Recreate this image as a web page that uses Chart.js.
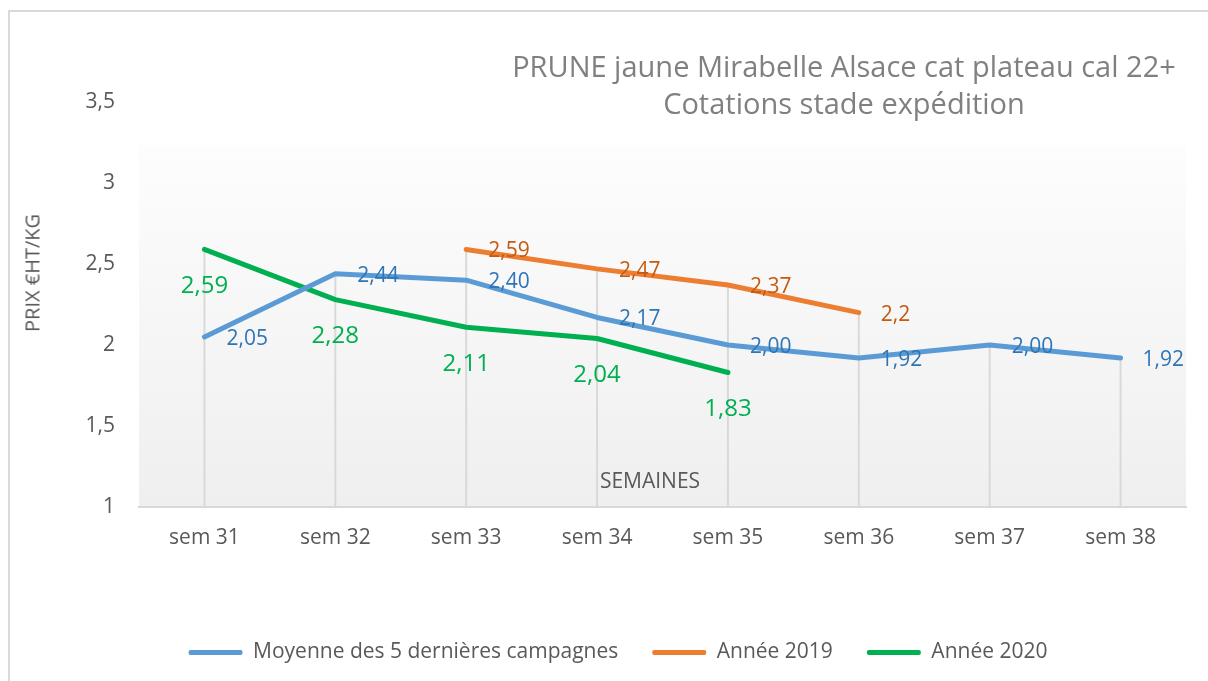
<!DOCTYPE html>
<html>
<head>
<meta charset="utf-8">
<script src="https://cdn.jsdelivr.net/npm/chart.js@4.4.1/dist/chart.umd.min.js"></script>
<style>
  body { margin: 0; background: #fff; }
  #wrap { position: relative; width: 1208px; height: 681px; overflow: hidden; font-family: "Open Sans", sans-serif; }
  #frame { position: absolute; left: 8px; top: 10px; width: 1220px; height: 700px; border-left: 2px solid #d9d9d9; border-top: 2px solid #d9d9d9; }
  #chart { position: absolute; left: 0; top: 0; }
  .txt { position: absolute; color: #595959; white-space: nowrap; }
  #title { left: 444px; width: 800px; top: 47px; text-align: center; font-size: 29px; line-height: 37px; color: #808080; }
  #ytitle { left: 32px; top: 273px; font-size: 20px; transform: translate(-50%, -50%) rotate(-90deg); }
  #xtitle { left: 650px; top: 480px; font-size: 21px; transform: translate(-50%, -50%); }
</style>
</head>
<body>
<div id="wrap">
  <div id="frame"></div>
  <canvas id="chart" width="1208" height="681"></canvas>
  <div id="title" class="txt">PRUNE jaune Mirabelle Alsace cat plateau cal 22+<br>Cotations stade expédition</div>
  <div id="ytitle" class="txt">PRIX €HT/KG</div>
  <div id="xtitle" class="txt">SEMAINES</div>
</div>
<script>
  // ===== Données =====
  const semaines = ["sem 31", "sem 32", "sem 33", "sem 34", "sem 35", "sem 36", "sem 37", "sem 38"];
  const moyenne5 = [2.05, 2.44, 2.40, 2.17, 2.00, 1.92, 2.00, 1.92];
  const annee2019 = [null, null, 2.59, 2.47, 2.37, 2.2, null, null];
  const annee2020 = [2.59, 2.28, 2.11, 2.04, 1.83, null, null, null];
  const yTicks = [1, 1.5, 2, 2.5, 3, 3.5];

  const comma = (v) => String(v).replace(".", ",");

  // ===== Fond dégradé de la zone de tracé =====
  const plotBackground = {
    id: "plotBackground",
    beforeDraw(chart) {
      const { ctx, chartArea } = chart;
      const top = chartArea.top + 43;
      let g = ctx.createLinearGradient(0, top, 0, chartArea.bottom);
      g.addColorStop(0, "#fdfdfd");
      g.addColorStop(1, "#efefef");
      ctx.save();
      ctx.fillStyle = g;
      ctx.fillRect(chartArea.left, top, chartArea.right - chartArea.left, chartArea.bottom - top);
      ctx.restore();
    }
  };

  // ===== Lignes de projection (drop lines) =====
  const dropLines = {
    id: "dropLines",
    beforeDatasetsDraw(chart) {
      const { ctx, chartArea, scales } = chart;
      ctx.save();
      ctx.strokeStyle = "#d9d9d9";
      ctx.lineWidth = 2;
      semaines.forEach((s, i) => {
        let vals = chart.data.datasets.map(d => d.data[i]).filter(v => v != null);
        if (!vals.length) return;
        let x = scales.x.getPixelForValue(i);
        let y = scales.y.getPixelForValue(Math.max(...vals));
        ctx.beginPath();
        ctx.moveTo(x, y);
        ctx.lineTo(x, chartArea.bottom);
        ctx.stroke();
      });
      ctx.restore();
    }
  };

  // ===== Étiquettes de données =====
  const dataLabels = {
    id: "dataLabels",
    afterDatasetsDraw(chart) {
      const { ctx } = chart;
      chart.data.datasets.forEach((ds, di) => {
        let meta = chart.getDatasetMeta(di);
        ctx.save();
        ctx.font = ds.lblSize + "px 'Open Sans'";
        ctx.fillStyle = ds.lblColor;
        meta.data.forEach((pt, i) => {
          let v = ds.data[i];
          if (v == null) return;
          let txt = ds.lblFixed ? v.toFixed(2).replace(".", ",") : comma(v);
          if (ds.lblPos === "right") {
            ctx.textAlign = "left";
            ctx.textBaseline = "middle";
            ctx.fillText(txt, pt.x + 22, pt.y + 2);
          } else {
            ctx.textAlign = "center";
            ctx.textBaseline = "middle";
            ctx.fillText(txt, pt.x, pt.y + 37);
          }
        });
        ctx.restore();
      });
    }
  };

  const ctx = document.getElementById("chart").getContext("2d");
  let chart = new Chart(ctx, {
    type: "line",
    data: {
      labels: semaines,
      datasets: [
        {
          label: "Moyenne des 5 dernières campagnes",
          data: moyenne5,
          borderColor: "#5b9bd5",
          backgroundColor: "#5b9bd5",
          lblColor: "#2e75b6", lblPos: "right", lblSize: 21, lblFixed: true
        },
        {
          label: "Année 2019",
          data: annee2019,
          borderColor: "#ed7d31",
          backgroundColor: "#ed7d31",
          lblColor: "#c55a11", lblPos: "right", lblSize: 21, lblFixed: false
        },
        {
          label: "Année 2020",
          data: annee2020,
          borderColor: "#00b050",
          backgroundColor: "#00b050",
          lblColor: "#00b050", lblPos: "below", lblSize: 24, lblFixed: false
        }
      ]
    },
    options: {
      responsive: false,
      animation: false,
      layout: { padding: { left: 50, right: 22, top: 102, bottom: 8 } },
      elements: {
        line: { borderWidth: 5, tension: 0, borderCapStyle: "round", borderJoinStyle: "round", fill: false },
        point: { radius: 0, hoverRadius: 0 }
      },
      plugins: {
        title: { display: false },
        tooltip: { enabled: false },
        legend: {
          position: "bottom",
          labels: {
            color: "#595959",
            font: { family: "Open Sans", size: 21 },
            boxWidth: 54,
            boxHeight: 5,
            padding: 34,
            generateLabels(chart) {
              return Chart.defaults.plugins.legend.labels.generateLabels(chart).map(l => {
                l.lineWidth = 0;
                l.borderRadius = 2;
                return l;
              });
            }
          }
        }
      },
      scales: {
        x: {
          offset: true,
          grid: { display: false, drawTicks: false, offset: true },
          border: { display: true, color: "#d9d9d9", width: 2 },
          ticks: { color: "#595959", font: { family: "Open Sans", size: 21 }, padding: 18, maxRotation: 0 },
          afterFit(scale) { scale.height = 101; }
        },
        y: {
          min: 1,
          max: 3.5,
          afterBuildTicks(scale) { scale.ticks = yTicks.map(v => ({ value: v })); },
          grid: { display: false, drawTicks: false },
          border: { display: false },
          ticks: {
            color: "#595959",
            font: { family: "Open Sans", size: 21 },
            padding: 24,
            callback: (v) => comma(v)
          },
          afterFit(scale) { scale.width = 89; }
        }
      }
    },
    plugins: [plotBackground, dropLines, dataLabels]
  });
</script>
</body>
</html>
